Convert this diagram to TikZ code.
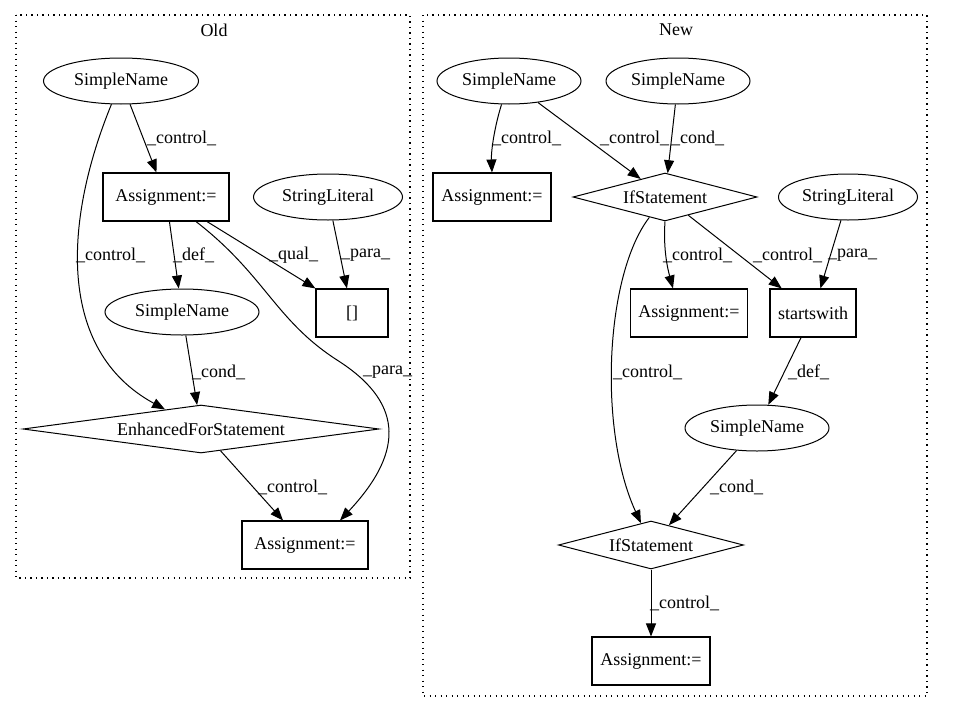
\documentclass[tikz,border=0pt]{standalone}
\usepackage{fontspec}
\setmainfont{Liberation Serif}
\usetikzlibrary{shapes.geometric,arrows.meta}
\begin{document}
\begin{tikzpicture}[x=1pt,y=-1pt,
  every node/.style={font=\fontsize{18}{22}\selectfont, inner sep=0pt},
  ell/.style={draw, ellipse, line width=1pt, minimum height=46pt},
  box/.style={draw, rectangle, line width=1.1pt, minimum height=48pt},
  dia/.style={draw, diamond, line width=1pt, minimum height=48pt},
  edge/.style={draw, line width=1pt, -{Triangle[length=13pt,width=10pt]}},
  lbl/.style={anchor=west},
  cluster/.style={draw, line width=1.1pt, dash pattern=on 1.3pt off 4.2pt}]
\useasboundingbox (0,0) rectangle (980,712);
% clusters
\draw[cluster] (16,15) rectangle (410,578);
\node (oldt) at (214,30) {Old};
\draw[cluster] (423,15) rectangle (927,696);
\node (newt) at (676,30) {New};
% old nodes
\node[ell, minimum width=155pt] (o_sn1) at (121,81) {SimpleName};
\node[box, minimum width=126pt] (o_a1) at (166,197) {Assignment:=};
\node[ell, minimum width=149pt] (o_sl) at (328,197) {StringLiteral};
\node[ell, minimum width=154pt] (o_sn2) at (182,312) {SimpleName};
\node[box, minimum width=72pt] (o_br) at (352,313) {[]};
\node[dia, minimum width=356pt, aspect=7.4] (o_efs) at (201,429) {EnhancedForStatement};
\node[box, minimum width=126pt] (o_a2) at (305,545) {Assignment:=};
% new nodes
\node[ell, minimum width=144pt] (n_sn1) at (509,81) {SimpleName};
\node[ell, minimum width=144pt] (n_sn2) at (678,81) {SimpleName};
\node[box, minimum width=118pt] (n_a1) at (492,197) {Assignment:=};
\node[dia, minimum width=184pt, aspect=3.8] (n_if1) at (665,197) {IfStatement};
\node[ell, minimum width=139pt] (n_sl) at (848,197) {StringLiteral};
\node[box, minimum width=117pt] (n_a2) at (689,313) {Assignment:=};
\node[box, minimum width=86pt] (n_sw) at (813,313) {startswith};
\node[ell, minimum width=144pt] (n_sn3) at (757,428) {SimpleName};
\node[dia, minimum width=185pt, aspect=3.8] (n_if2) at (651,545) {IfStatement};
\node[box, minimum width=118pt] (n_a3) at (651,661) {Assignment:=};
% old edges
\draw[edge] (o_sn1) -- (o_a1);
\draw[edge] (o_sn1) .. controls (64,220) and (56,350) .. (o_efs);
\draw[edge] (o_a1) -- (o_sn2);
\draw[edge] ([xshift=41pt]o_a1.south) -- (o_br.north west);
\draw[edge] (o_sl) -- (o_br);
\draw[edge] ([xshift=30pt]o_a1.south) .. controls (265,275) and (275,320) .. (337,360) .. controls (400,400) and (408,448) .. ([xshift=35pt]o_a2.north);
\draw[edge] (o_sn2) -- (o_efs);
\draw[edge] (o_efs) -- (o_a2);
% new edges
\draw[edge] (n_sn1) .. controls (495,125) and (491,150) .. (n_a1.north);
\draw[edge] (n_sn1) -- (n_if1);
\draw[edge] (n_sn2) -- (n_if1);
\draw[edge] (n_if1.south) .. controls (663,250) and (668,270) .. ([xshift=-16pt]n_a2.north);
\draw[edge] (n_if1) -- (n_sw);
\draw[edge] (n_sl) -- (n_sw);
\draw[edge] (n_if1) .. controls (605,275) and (598,430) .. (n_if2);
\draw[edge] (n_sw) -- (n_sn3);
\draw[edge] (n_sn3) -- (n_if2);
\draw[edge] (n_if2) -- (n_a3);
% labels
\node[lbl] (l1) at (147,138) {\_control\_};
\node[lbl] (l2) at (76,255) {\_control\_};
\node[lbl] (l3) at (173,255) {\_def\_};
\node[lbl] (l4) at (269,255) {\_qual\_};
\node[lbl] (l5) at (341,255) {\_para\_};
\node[lbl] (l6) at (192,372) {\_cond\_};
\node[lbl] (l7) at (363,372) {\_para\_};
\node[lbl] (l8) at (258,487) {\_control\_};
\node[lbl] (l9) at (492,138) {\_control\_};
\node[lbl] (l10) at (600,138) {\_control\_};
\node[lbl] (l11) at (671,138) {\_cond\_};
\node[lbl] (l12) at (663,255) {\_control\_};
\node[lbl] (l13) at (753,255) {\_control\_};
\node[lbl] (l14) at (828,255) {\_para\_};
\node[lbl] (l15) at (613,372) {\_control\_};
\node[lbl] (l16) at (788,372) {\_def\_};
\node[lbl] (l17) at (710,487) {\_cond\_};
\node[lbl] (l18) at (650,603) {\_control\_};
\end{tikzpicture}
\end{document}
